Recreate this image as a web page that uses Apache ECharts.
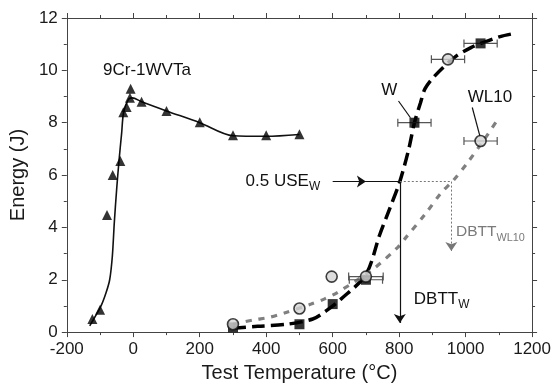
<!DOCTYPE html>
<html>
<head>
<meta charset="utf-8">
<script src="https://cdn.jsdelivr.net/npm/echarts@6/dist/echarts.min.js"></script>
<style>
  html, body { margin: 0; padding: 0; background: #fff; }
  #main { width: 554px; height: 388px; }
</style>
</head>
<body>
<div id="main"></div>
<script>
// 9Cr-1WVTa measured points (temperature °C, energy J)
const crPoints = [
  [-123, 0.5], [-100, 0.85], [-79, 4.47], [-62, 6.0], [-39, 6.54], [-30, 8.4],
  [-20, 8.6], [-10, 8.95], [-8, 9.3], [25, 8.8], [100, 8.45], [200, 8.02],
  [300, 7.52], [400, 7.52], [500, 7.56]
]
// hand fit through the 9Cr points, as drawn
const crFit = [
  [-131, 0.24], [-97, 1.0], [-82, 1.5], [-71, 2.0], [-63, 2.9], [-57, 4.2],
  [-50, 5.46], [-43, 6.54], [-35, 7.6], [-29, 8.4], [-14, 8.9], [-3, 8.95],
  [25, 8.8], [100, 8.45], [200, 8.0], [300, 7.5], [400, 7.48], [500, 7.55]
]
// W (squares) and WL10 (circles)
const wPoints = [[300, 0.18], [500, 0.3], [600, 1.07], [700, 2.0], [846, 8.0], [1045, 11.03]]
const wl10Points = [[300, 0.3], [500, 0.9], [597, 2.12], [700, 2.12], [947, 10.42], [1045, 7.3]]
// horizontal error bars: [x, y, half width]
const wErr = [[700, 2.0, 50], [846, 8.0, 50], [1045, 11.03, 50]]
const wl10Err = [[700, 2.12, 52], [947, 10.42, 50], [1045, 7.3, 50]]
// fitted transition curves
const wFit = [
  [300, 0.15], [374, 0.22], [462, 0.3], [540, 0.5], [579, 0.8], [624, 1.25],
  [700, 2.2], [741, 3.7], [771, 4.7], [802, 5.75], [829, 7.0], [846, 8.0],
  [864, 8.75], [878, 9.3], [908, 9.8], [967, 10.5], [1016, 10.87], [1050, 11.05],
  [1104, 11.29], [1143, 11.4]
]
const wl10Fit = [
  [300, 0.3], [364, 0.47], [408, 0.56], [452, 0.72], [535, 1.07], [574, 1.26],
  [614, 1.51], [721, 2.4], [795, 3.23], [820, 3.61], [878, 4.5], [927, 5.33],
  [962, 5.78], [1006, 6.48], [1060, 7.43], [1100, 8.2]
]
// 0.5 USE_W level and the two DBTT temperatures
const halfUse = 5.75
const dbttW = 802
const dbttWL10 = 957

const FONT = '"Liberation Sans", Arial, sans-serif'
const AXIS = '#444'

const axisBase = {
  axisLine: { show: true, onZero: false, lineStyle: { color: AXIS, width: 1 } },
  axisTick: { show: true, inside: false, length: 5, lineStyle: { color: AXIS } },
  minorTick: { show: true, splitNumber: 2, length: 3, lineStyle: { color: AXIS } },
  splitLine: { show: false },
  axisLabel: { color: '#1a1a1a', fontSize: 17, fontFamily: FONT, margin: 9, formatter: (v) => String(v) },
}

function errorBars(color) {
  return function (params, api) {
    const y = api.value(1)
    const d = api.value(2)
    const a = api.coord([api.value(0) - d, y])
    const b = api.coord([api.value(0) + d, y])
    const st = { stroke: color, lineWidth: 1.2 }
    return {
      type: 'group',
      children: [
        { type: 'line', shape: { x1: a[0], y1: a[1], x2: b[0], y2: b[1] }, style: st },
        { type: 'line', shape: { x1: a[0], y1: a[1] - 4, x2: a[0], y2: a[1] + 4 }, style: st },
        { type: 'line', shape: { x1: b[0], y1: b[1] - 4, x2: b[0], y2: b[1] + 4 }, style: st },
      ],
    }
  }
}

const plain = { show: false }
const option = {
  animation: false,
  backgroundColor: '#fff',
  textStyle: { fontFamily: FONT },
  grid: { left: 60, right: 19, top: 18, bottom: 55, containLabel: false },
  xAxis: [
    {
      ...axisBase, type: 'value', min: -200, max: 1200, interval: 200,
      name: 'Test Temperature (°C)', nameLocation: 'middle', nameGap: 28,
      nameTextStyle: { color: '#1a1a1a', fontSize: 20, fontFamily: FONT },
    },
    { ...axisBase, type: 'value', position: 'top', min: -200, max: 1200, interval: 200, axisLabel: { show: false } },
  ],
  yAxis: [
    {
      ...axisBase, type: 'value', min: 0, max: 12, interval: 2,
      name: 'Energy (J)', nameLocation: 'middle', nameGap: 30,
      nameTextStyle: { color: '#1a1a1a', fontSize: 20, fontFamily: FONT },
    },
    { ...axisBase, type: 'value', position: 'right', min: 0, max: 12, interval: 2, axisLabel: { show: false } },
  ],
  series: [
    {
      name: 'crFit', type: 'line', data: crFit, smooth: 0.3, showSymbol: false,
      lineStyle: { color: '#111', width: 1.6 }, z: 2,
    },
    {
      name: 'wFit', type: 'line', data: wFit, smooth: 0.3, showSymbol: false,
      lineStyle: { color: '#000', width: 3.5, type: [13, 6] }, z: 2,
    },
    {
      name: 'wl10Fit', type: 'line', data: wl10Fit, smooth: 0.3, showSymbol: false,
      lineStyle: { color: '#808080', width: 3.2, type: [6, 7] }, z: 2,
    },
    {
      // arrows and leader lines
      type: 'line', data: [], z: 3,
      markLine: {
        silent: true, animation: false, label: plain, symbol: ['none', 'none'],
        lineStyle: { color: '#111', width: 1.2, type: 'solid' },
        data: [
          [{ coord: [600, halfUse], symbol: 'none' }, { coord: [700, halfUse], symbol: 'arrow', symbolSize: 9 }],
          [{ coord: [700, halfUse] }, { coord: [dbttW, halfUse] }],
          [{ coord: [dbttW, halfUse], symbol: 'none' }, { coord: [dbttW, 0.35], symbol: 'arrow', symbolSize: 9 }],
          [{ coord: [dbttW, halfUse], lineStyle: { color: '#777', type: [2, 2], width: 1 } },
           { coord: [dbttWL10, halfUse] }],
          [{ coord: [dbttWL10, halfUse], symbol: 'none', lineStyle: { color: '#777', type: [2, 2], width: 1 } },
           { coord: [dbttWL10, 3.1], symbol: 'arrow', symbolSize: 9 }],
          [{ coord: [798, 8.83] }, { coord: [834, 8.19] }],
          [{ coord: [1020, 8.58] }, { coord: [1043, 7.49] }],
        ],
      },
    },
    { type: 'custom', renderItem: errorBars('#555'), data: wErr, encode: { x: 0, y: 1 }, z: 3 },
    { type: 'custom', renderItem: errorBars('#555'), data: wl10Err, encode: { x: 0, y: 1 }, z: 3 },
    {
      name: '9Cr-1WVTa', type: 'scatter', data: crPoints, symbol: 'triangle', symbolSize: 10,
      itemStyle: { color: '#000' }, z: 5,
    },
    {
      name: 'W', type: 'scatter', data: wPoints, symbol: 'rect', symbolSize: 10,
      itemStyle: { color: '#000' }, z: 5,
    },
    {
      name: 'WL10', type: 'scatter', data: wl10Points, symbol: 'circle', symbolSize: 11,
      itemStyle: { color: '#d4d4d4', borderColor: '#111', borderWidth: 1.6 }, z: 6,
    },
  ],
}

const chart = echarts.init(document.getElementById('main'), null, { renderer: 'canvas' })
chart.setOption(option)

// text annotations placed in data coordinates
const at = (x, y) => chart.convertToPixel({ seriesIndex: 0 }, [x, y])
const sub = (size, color) => ({ fontSize: size, fontFamily: FONT, fill: color, padding: [11, 0, 0, 0], lineHeight: 12 })
const main = (size, color) => ({ fontSize: size, fontFamily: FONT, fill: color, lineHeight: 20 })

const notes = [
  { pos: [-91, 10.0], text: '9Cr-1WVTa', align: 'left', color: '#111', size: 17 },
  { pos: [770, 9.24], text: 'W', align: 'center', color: '#111', size: 17 },
  { pos: [1073, 8.97], text: 'WL10', align: 'center', color: '#111', size: 17 },
  { pos: [338, halfUse], text: '{m|0.5 USE}{s|W}', align: 'left', color: '#111', size: 17 },
  { pos: [844, 1.26], text: '{m|DBTT}{s|W}', align: 'left', color: '#111', size: 17 },
  { pos: [971, 3.82], text: '{m|DBTT}{s|WL10}', align: 'left', color: '#7a7a7a', size: 15.5 },
]

chart.setOption({
  graphic: notes.map((n) => {
    const p = at(n.pos[0], n.pos[1])
    return {
      type: 'text', x: p[0], y: p[1], z: 10,
      style: {
        text: n.text, fontSize: n.size, fontFamily: FONT, fill: n.color,
        align: n.align, verticalAlign: 'middle',
        rich: { m: main(n.size, n.color), s: sub(n.size * 0.7, n.color) },
      },
    }
  }),
})
</script>
</body>
</html>
